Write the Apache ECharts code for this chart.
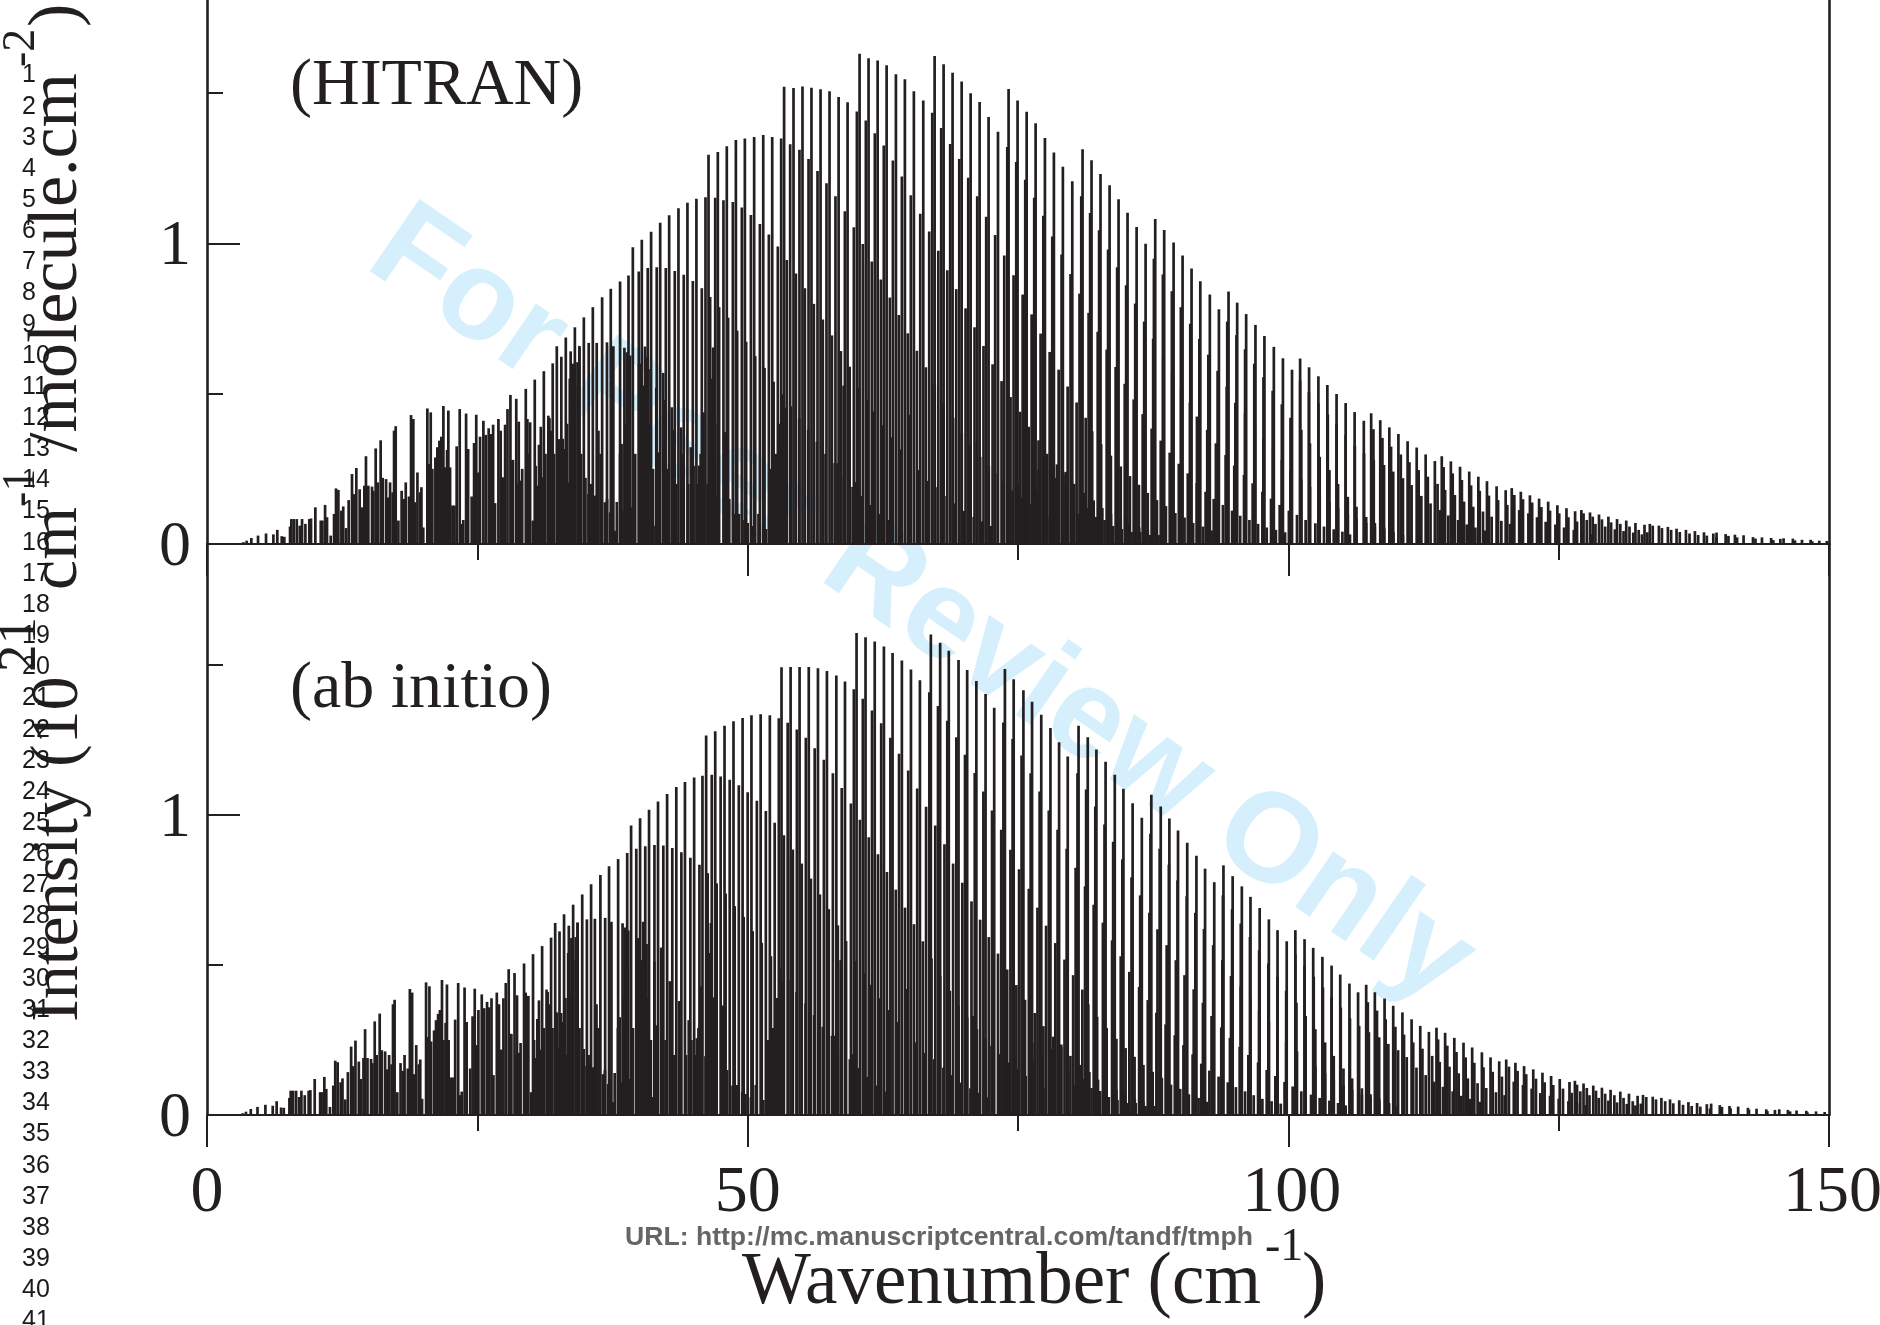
<!DOCTYPE html>
<html><head><meta charset="utf-8">
<style>html,body{margin:0;padding:0;background:#fff}#c{width:1880px;height:1325px}</style>
<script src="https://cdn.jsdelivr.net/npm/echarts@6/dist/echarts.min.js"></script>
</head><body><div id="c"></div>
<script>
const hitranLeft=[3.36,.006,3.67,.011,4.1,.02,4.72,.028,5.46,.035,6.14,.032,6.5,.047,6.91,.026,7.15,.024,7.68,.058,7.8,.083,8.02,.083,8.3,.083,8.58,.061,8.79,.083,9.1,.067,9.46,.083,9.62,.085,10.02,.122,10.52,.078,10.67,.078,10.92,.13,11.1,.089,11.44,.028,11.75,.1,11.93,.185,12.15,.18,12.43,.111,12.6,.125,12.86,.053,13.1,.146,13.41,.233,13.6,.166,13.81,.253,14.12,.182,14.3,.122,14.55,.194,14.7,.292,14.92,.194,15.26,.191,15.38,.177,15.6,.318,15.78,.205,16.06,.345,16.25,.22,16.56,.216,16.74,.155,16.93,.205,17.17,.172,17.3,.377,17.45,.392,17.7,.078,18,.177,18.22,.15,18.38,.205,18.68,.158,18.87,.429,19.08,.416,19.24,.139,19.46,.238,19.7,.172,19.83,.189,20,.055,20.38,.451,20.5,.266,20.69,.438,20.84,.25,21.12,.288,21.3,.322,21.49,.344,21.67,.357,21.86,.459,22,.255,22.2,.313,22.32,.444,22.48,.255,22.7,.128,22.88,.128,23.09,.325,23.37,.449,23.56,.067,23.7,.08,23.96,.434,24.15,.316,24.48,.158,24.7,.336,24.9,.43,25.1,.238,25.25,.357,25.56,.41,25.78,.363,26.05,.385,26.24,.366,26.46,.397,26.64,.136,26.95,.416,27.16,.377,27.35,.222,27.57,.397,27.79,.449,28.06,.496,28.2,.277,28.6,.483,28.83,.407,29,.211,29.63,.416,29.88,.405,30.13,.078,30.55,.194,30.87,.39,30.96,.222,31.05,.122,31.57,.427,31.67,.419,31.79,.377,32.53,.349,32.65,.227,33.03,.316,33.4,.205];
const hitran25=[29.48,.516,30.31,.547,31.15,.575,31.97,.601,32.77,.623,33.63,.641,34.44,.659,35.3,.669,36.04,.669,36.99,.671,37.58,.658,38.6,.653,39.13,.627,39.95,.6,40.75,.56,41.55,.52,42.3,.48,42.98,.455,43.85,.388,44.74,.322,45.51,.261,46.3,.2,47.2,.16,48,.13,48.8,.1,49.7,.08,50.5,.06];
const hitran32=[32.35,.658,33.18,.687,34.02,.721,34.85,.754,35.68,.788,36.54,.821,37.34,.849,38.2,.873,38.98,.893,39.93,.907,40.76,.918,41.59,.921,42.43,.918,43.26,.908,44.09,.896,44.93,.875,45.76,.851,46.53,.822,47.36,.788,48.19,.753,49.03,.71,49.86,.673,50.7,.625,51.56,.586,52.4,.54,53.19,.498,54,.458,54.77,.418,55.6,.38,56.4,.34,57.2,.3,58.05,.269,58.9,.22,59.7,.19,60.5,.16,61.3,.13,62.2,.1,63,.08];
const hitran39=[39.38,.987,40.21,1.012,41.07,1.039,41.91,1.069,42.74,1.094,43.6,1.117,44.43,1.135,45.26,1.149,46.1,1.154,47,1.152,47.76,1.144,48.63,1.138,49.46,1.12,50.3,1.095,51.13,1.065,51.96,1.03,52.79,.99,53.62,.945,54.46,.9,55.29,.851,56.12,.799,56.95,.747,57.79,.694,58.62,.642,59.43,.59,60.3,.52,61.1,.48,61.64,.441,62.5,.395,63.33,.355,64.16,.315,64.97,.28,65.8,.246,66.6,.21,67.56,.189,68.4,.16,69.2,.135,70,.11,70.9,.09,71.7,.075,72.5,.06];
const hitran46=[46.38,1.295,47.24,1.304,48.07,1.323,48.91,1.344,49.74,1.349,50.6,1.354,51.44,1.361,52.27,1.354,53.1,1.349,53.93,1.33,54.79,1.312,55.63,1.281,56.46,1.241,57.29,1.2,58.12,1.157,58.99,1.107,59.82,1.054,60.65,.998,61.48,.94,62.32,.88,63.15,.82,63.98,.762,64.81,.701,65.65,.643,66.48,.588,67.3,.53,68.1,.47,69,.42,69.8,.37,70.6,.33,71.5,.29,72.3,.26,72.89,.235,73.66,.206,74.5,.178,75.27,.155,76.07,.132,76.9,.11,77.7,.09,78.6,.075];
const hitran53=[53.37,1.521,54.24,1.517,55.07,1.522,55.9,1.518,56.74,1.513,57.57,1.506,58.41,1.487,59.24,1.47,60.1,1.439,60.93,1.409,61.76,1.367,62.59,1.326,63.43,1.276,64.26,1.223,65.09,1.16,65.96,1.099,66.79,1.04,67.63,.976,68.46,.911,69.29,.848,70.15,.784,70.98,.721,71.81,.659,72.65,.598,73.48,.542,74.31,.489,75.2,.44,76,.39,76.9,.345,77.7,.3,78.6,.265,79.4,.23,80.2,.2,81.1,.17,82,.145,82.8,.12,83.6,.1,84.5,.085,85.3,.07,86.2,.055,87,.045];
const hitran60=[60.35,1.631,61.18,1.616,62.02,1.609,62.85,1.593,63.71,1.563,64.54,1.546,65.37,1.506,66.24,1.476,67.07,1.435,67.9,1.384,68.73,1.331,69.57,1.281,70.4,1.219,71.23,1.157,72.06,1.089,72.89,1.028,73.73,.96,74.59,.894,75.43,.83,76.26,.764,77.09,.7,77.93,.639,78.76,.58,79.59,.524,80.42,.471,81.26,.42,81.86,.375,82.69,.332,83.59,.294,84.5,.258,85.35,.226,86.18,.197,87,.17,87.85,.146,88.68,.126,89.55,.103,90.4,.088,91.2,.07,92.1,.058,92.9,.045];
const hitran67=[67.29,1.624,68.12,1.596,68.95,1.568,69.79,1.539,70.62,1.5,71.45,1.471,72.28,1.421,73.15,1.372,74.01,1.321,74.84,1.271,75.67,1.212,76.5,1.152,77.34,1.092,78.17,1.023,79.03,.963,79.86,.898,80.69,.833,81.53,.769,82.37,.706,83.2,.647,84.03,.589,84.87,.533,85.7,.481,86.53,.432,87.36,.384,88.2,.344,89.03,.304,89.87,.267,90.7,.235,91.53,.203,92.35,.174,93.1,.15,93.95,.13,94.8,.111,95.55,.094,96.4,.08,97.2,.067,98,.055,98.85,.047,99.7,.039];
const hitran74=[74.13,1.514,74.96,1.476,75.8,1.438,76.63,1.4,77.49,1.351,78.32,1.303,79.15,1.255,80.02,1.207,80.85,1.157,81.67,1.101,82.5,1.044,83.33,.98,84.17,.921,85,.861,85.84,.8,86.67,.74,87.5,.683,88.43,.624,89.26,.57,90.09,.518,90.9,.47,91.55,.424,92.5,.38,93.3,.335,94.2,.296,95,.261,95.9,.23,96.7,.202,97.6,.174,98.4,.151,99.2,.13,100.05,.111,100.8,.097,101.6,.08,102.5,.069,103.3,.058,104.2,.049,105,.041,105.7,.032];
const hitran81=[80.97,1.313,81.8,1.277,82.63,1.231,83.47,1.194,84.3,1.147,85.13,1.102,85.97,1.055,86.8,.999,87.57,.949,88.4,.897,89.23,.841,90.06,.788,90.93,.733,91.77,.682,92.6,.63,93.46,.576,94.3,.524,95.1,.47,96,.435,96.9,.393,97.7,.353,98.6,.315,99.4,.28,100.2,.246,101.2,.215,102,.19,102.9,.165,103.8,.14,104.6,.12,105.5,.1,106.3,.085,107.2,.07,108,.058,108.85,.048,109.7,.04,110.6,.03];
const hitran88=[87.69,1.081,88.52,1.045,89.39,1.003,90.22,.96,91.05,.917,91.86,.874,92.74,.83,93.58,.781,94.35,.74,95.2,.695,96,.648,96.85,.6,97.7,.555,98.55,.51,99.4,.465,100.2,.42,101.2,.38,102,.335,102.9,.29,103.8,.246,104.6,.2,105.5,.157,106.3,.124,107.2,.09,108,.07,108.85,.055,109.7,.04];
const hitran94=[94.47,.84,95.27,.803,96.1,.765,96.96,.729,97.79,.692,98.66,.656,99.5,.618,100.34,.58,101.09,.544,101.9,.505,102.78,.468,103.65,.431,104.46,.399,105.3,.363,106.15,.327,107,.302,107.9,.28,108.85,.263,109.7,.241,110.6,.219,111.4,.196,112.3,.16,113.15,.135,114,.113,114.8,.095,115.7,.08,116.5,.065,117.3,.055,118.2,.045];
const hitran101=[101.09,.617,101.92,.588,102.78,.558,103.61,.529,104.46,.499,105.3,.469,106.13,.439,106.98,.41,107.87,.382,108.7,.353,109.5,.324,110.4,.298,111.2,.272,112.05,.246,112.9,.224,113.8,.2,114.5,.18,115.4,.163,116.25,.141,117.1,.124,118,.108,118.8,.091,119.7,.077,120.5,.067,121.4,.055,122.3,.045,123.1,.035];
const hitran108=[107.66,.435,108.5,.412,109.34,.388,110.18,.366,111.03,.342,111.87,.321,112.7,.298,113.55,.276,114.36,.256,115.2,.235,116.05,.213,116.9,.195,117.7,.177,118.55,.161,119.4,.146,120.25,.13,121.35,.113,122.2,.102,123,.089,123.8,.074,124.7,.065,125.5,.055,126.4,.047,127.2,.04,128,.033];
const hitran114=[114.19,.292,115.03,.275,115.88,.257,116.73,.241,117.57,.224,118.37,.209,119.26,.192,120.1,.179,120.9,.163,121.7,.149,122.55,.138,123.4,.123,124.2,.111,125.05,.102,125.9,.089,126.7,.075,127.6,.08,128.4,.067,129.3,.058,130.2,.049,131,.043,131.9,.038,132.7,.032];
const hitran121=[120.66,.186,121.5,.174,122.34,.162,123.19,.151,124.03,.141,124.88,.129,125.72,.119,126.52,.109,127.3,.102,128.15,.091,129,.082,129.85,.072,130.7,.067,131.55,.058,132.4,.047,133.2,.039];
const hitran127=[127.1,.113,127.9,.105,128.73,.098,129.6,.091,130.4,.083,131.25,.078,132.1,.07,132.94,.064,133.7,.061,134.55,.053,135.4,.047,136.2,.04,137.1,.035,137.9,.03,138.7,.028,139.6,.022];
const hitran133=[133.43,.067,134.27,.061,135.1,.057,135.9,.051,136.77,.047,137.6,.043,138.44,.039,139.3,.035,140.7,.027,141.5,.022,143.2,.018,144.85,.013];
const hitran140=[139.6,.038,140.44,.033,141.3,.031,142.1,.029,142.97,.023,143.8,.022,144.65,.02,145.5,.017,146.85,.012,148.45,.009];
const hitran146=[145.8,.019,146.66,.018,147.5,.014,148.3,.014,149.1,.011,149.8,.01];
const hitranBlobs=[33.73,.41,34.04,.527,34.26,.605,34.44,.653,35.28,.166,35.89,.161,36.2,.377,36.8,.139,37.28,.105,37.7,.044,38.34,.333,38.5,.111,38.82,.638,39.28,.122,40,.25,40.36,.527,40.51,.657,40.83,.582,41.3,.061,41.72,.305,42.18,.569,45.92,.438,46.8,.654,47,.4,47.91,.372,53.47,.453,58.31,.269,58.87,.527,59.98,.206,64.97,.43,71.2,.338,76.9,.246,79.4,.24];
const hitranLow=[28.3,.28,28.75,.2,29.15,.25,29.7,.3,30.4,.26,30.7,.33,31.3,.3,31.9,.25,32.1,.3,32.9,.35,33.3,.4,33.55,.55,33.85,.6,34.6,.3,35,.22,35.5,.2,36,.16,36.4,.3,37,.15,37.5,.12,37.9,.14,38.2,.3,38.75,.4,39.05,.5,39.6,.3,40.15,.6,40.6,.62,41,.4,41.25,.25,41.8,.3,42.6,.25,43.1,.38,43.4,.2,44,.3,44.5,.2,45,.26,45.35,.2,45.65,.3,46.65,.55,48.3,.15,49.2,.1,50,.07,51,.1,51.7,.05,52.1,.25,52.6,.3,52.95,.4,75,.2,75.9,.16,76.7,.18,77.5,.2,78.4,.22,79.2,.2,80,.15,80.6,.1,81.4,.12,82.2,.09,83,.08,83.8,.06,84.6,.05,85.5,.04,86.3,.04,87.2,.03,88,.03];

const abInitioLeft=[3.3,.006,3.6,.011,4.05,.02,4.67,.027,5.4,.034,6.08,.031,6.44,.046,6.85,.025,7.1,.024,7.62,.057,7.74,.081,7.96,.081,8.24,.081,8.52,.06,8.73,.081,9.04,.066,9.4,.081,9.56,.083,9.96,.12,10.46,.076,10.6,.076,10.85,.127,11.03,.087,11.37,.027,11.68,.098,11.86,.181,12.08,.176,12.36,.109,12.53,.122,12.79,.052,13.03,.143,13.33,.228,13.52,.163,13.73,.248,14.04,.178,14.22,.12,14.47,.19,14.62,.286,14.84,.19,15.17,.187,15.3,.173,15.51,.312,15.69,.2,15.97,.338,16.16,.216,16.47,.212,16.65,.152,16.84,.2,17.07,.169,17.2,.369,17.35,.384,17.6,.076,17.9,.173,18.12,.147,18.27,.2,18.57,.155,18.76,.42,18.97,.408,19.13,.136,19.35,.233,19.59,.169,19.72,.185,19.89,.054,20.26,.442,20.38,.26,20.57,.429,20.72,.245,21,.282,21.18,.316,21.37,.337,21.54,.35,21.73,.45,21.87,.25,22.07,.307,22.19,.435,22.35,.25,22.57,.125,22.75,.125,22.95,.318,23.23,.44,23.42,.066,23.56,.078,23.82,.425,24.01,.31,24.34,.155,24.56,.329,24.76,.421,24.96,.233,25.1,.35,25.41,.402,25.63,.356,25.9,.377,26.09,.359,26.31,.389,26.49,.133,26.8,.408,27,.369,27.2,.218,27.41,.389,27.63,.44,27.9,.486,28.04,.271,28.44,.473,28.67,.399,28.84,.207,29.47,.408,29.72,.397,29.97,.076,30.39,.19,30.7,.382,30.8,.218,30.89,.12,31.4,.418,31.5,.41,31.62,.369,32.36,.342,32.48,.222,32.86,.31,33.23,.2];
const abInitio25=[29.32,.505,30.15,.536,30.99,.563,31.82,.591,32.6,.612,33.46,.631,34.27,.642,35.13,.652,35.87,.654,36.82,.657,37.4,.644,38.43,.639,38.96,.615,39.78,.588,40.57,.549,41.37,.51,42.12,.47,42.8,.446,43.66,.38,44.55,.316,45.3,.256,46.1,.196,47,.157,47.8,.127,48.6,.098,49.5,.078,50.3,.059];
const abInitio32=[32.2,.64,33.02,.669,33.86,.701,34.7,.735,35.52,.769,36.38,.8,37.18,.829,38.02,.853,38.86,.873,39.7,.887,40.53,.896,41.38,.9,42.2,.898,43.03,.89,43.87,.876,44.7,.857,45.54,.834,46.3,.806,47.13,.772,47.96,.738,48.8,.696,49.63,.66,50.46,.613,51.3,.574,52.15,.529,52.95,.488,53.75,.449,54.52,.41,55.35,.372,56.15,.333,56.95,.294,57.8,.264,58.65,.216,59.45,.186,60.25,.157,61.05,.127,61.95,.098,62.75,.078];
const abInitio39=[39.22,.965,40.05,.989,40.88,1.017,41.71,1.045,42.55,1.07,43.4,1.093,44.2,1.11,45.05,1.125,45.82,1.131,46.68,1.134,47.5,1.128,48.34,1.117,49.18,1.099,50,1.076,50.85,1.047,51.68,1.013,52.5,.974,53.35,.932,54.18,.885,55,.838,55.85,.788,56.68,.735,57.5,.686,58.34,.632,59.1,.58,60,.512,60.8,.472,61.35,.434,62.2,.389,63.03,.35,63.86,.31,64.67,.276,65.5,.242,66.3,.207,67.25,.186,68.1,.158,68.9,.133,69.7,.108,70.6,.089,71.4,.074,72.2,.059];
const abInitio46=[46.16,1.265,47,1.279,47.86,1.297,48.69,1.312,49.53,1.323,50.35,1.332,51.2,1.336,52.05,1.332,52.88,1.322,53.7,1.307,54.55,1.285,55.38,1.257,56.2,1.222,57.05,1.184,57.88,1.139,58.7,1.09,59.55,1.038,60.38,.984,61.2,.926,62.05,.869,62.88,.81,63.7,.751,64.55,.691,65.38,.636,66.2,.579,67,.522,67.8,.463,68.7,.414,69.5,.364,70.3,.325,71.2,.286,72,.256,72.55,.231,73.33,.203,74.15,.175,74.92,.153,75.72,.13,76.55,.108,77.35,.089,78.25,.074];
const abInitio53=[53.13,1.492,53.97,1.493,54.8,1.493,55.65,1.493,56.5,1.489,57.33,1.48,58.2,1.465,59,1.445,59.82,1.419,60.65,1.387,61.5,1.348,62.35,1.306,63.2,1.257,64,1.204,64.85,1.148,65.68,1.088,66.5,1.027,67.35,.965,68.2,.902,69,.838,69.85,.774,70.7,.712,71.5,.651,72.3,.593,73.15,.538,74,.485,74.85,.433,75.65,.384,76.55,.34,77.35,.296,78.25,.261,79,.227,79.85,.197,80.7,.167,81.6,.143,82.4,.118,83.2,.098,84.1,.084,84.9,.069,85.8,.054,86.6,.044];
const abInitio60=[60.07,1.606,60.9,1.592,61.75,1.578,62.6,1.561,63.4,1.54,64.26,1.515,65.1,1.485,65.93,1.449,66.8,1.409,67.6,1.363,68.46,1.314,69.3,1.259,70.1,1.201,71,1.14,71.8,1.078,72.6,1.015,73.45,.951,74.3,.884,75.1,.819,76,.754,76.8,.691,77.6,.631,78.45,.573,79.3,.518,80.1,.466,80.95,.418,81.5,.369,82.32,.327,83.2,.29,84.1,.254,84.95,.223,85.78,.194,86.6,.167,87.45,.144,88.3,.124,89.15,.101,90,.087,90.8,.069,91.7,.057,92.5,.044];
const abInitio67=[66.94,1.601,67.8,1.574,68.6,1.547,69.5,1.516,70.3,1.483,71.15,1.446,72,1.403,72.8,1.357,73.65,1.308,74.5,1.253,75.33,1.198,76.17,1.139,77,1.078,77.85,1.015,78.66,.951,79.5,.887,80.33,.824,81.2,.762,82,.701,82.85,.641,83.7,.582,84.5,.529,85.3,.477,86.2,.427,87,.383,87.8,.341,88.65,.302,89.5,.266,90.3,.233,91.15,.202,91.95,.171,92.7,.148,93.55,.128,94.4,.109,95.15,.093,96,.079,96.8,.066,97.6,.054,98.45,.046,99.3,.038];
const abInitio74=[73.79,1.486,74.6,1.452,75.5,1.416,76.3,1.377,77.15,1.334,78,1.29,78.8,1.242,79.6,1.195,80.5,1.139,81.3,1.085,82.15,1.028,83,.968,83.8,.911,84.65,.852,85.5,.792,86.3,.732,87.15,.674,87.9,.619,88.75,.566,89.6,.516,90.4,.466,91.25,.419,92.1,.374,92.9,.33,93.8,.292,94.6,.257,95.5,.227,96.3,.2,97.2,.175,98,.15,98.8,.13,99.65,.11,100.4,.095,101.2,.079,102.1,.068,102.9,.057,103.8,.048,104.6,.04,105.3,.032];
const abInitio81=[80.6,1.297,81.45,1.259,82.25,1.218,83.1,1.177,83.95,1.134,84.75,1.087,85.6,1.039,86.45,.991,87.25,.937,88.1,.887,88.95,.834,89.75,.782,90.6,.729,91.4,.674,92.2,.62,93.05,.566,93.9,.516,94.7,.463,95.6,.428,96.5,.387,97.3,.348,98.2,.31,99,.276,99.8,.242,100.8,.212,101.6,.187,102.5,.163,103.4,.138,104.2,.118,105.1,.099,105.9,.084,106.8,.069,107.6,.057,108.4,.047,109.3,.039,110.1,.03];
const abInitio88=[87.33,1.067,88.2,1.028,89,.988,89.8,.948,90.65,.907,91.5,.864,92.3,.821,93.15,.776,93.95,.732,94.8,.686,95.6,.638,96.45,.593,97.3,.549,98.15,.505,99,.46,99.8,.414,100.75,.374,101.6,.33,102.5,.286,103.4,.242,104.2,.197,105.1,.155,105.9,.122,106.8,.089,107.6,.069,108.4,.054,109.3,.04];
const abInitio94=[94,.832,94.85,.796,95.7,.762,96.5,.727,97.35,.69,98.2,.652,99,.616,99.85,.579,100.65,.536,101.5,.497,102.35,.461,103.2,.425,104,.393,104.85,.358,105.7,.322,106.55,.297,107.45,.276,108.4,.259,109.25,.237,110.15,.216,110.95,.193,111.85,.158,112.7,.133,113.5,.111,114.3,.094,115.2,.079,116,.064,116.8,.054,117.7,.044];
const abInitio101=[100.65,.616,101.5,.586,102.3,.557,103.15,.527,104,.498,104.8,.468,105.65,.438,106.45,.409,107.35,.376,108.2,.348,109,.319,109.9,.294,110.7,.268,111.55,.242,112.4,.221,113.3,.197,114,.177,114.9,.161,115.75,.139,116.6,.122,117.5,.106,118.3,.09,119.2,.076,120,.066,120.9,.054,121.8,.044,122.6,.034];
const abInitio108=[107.2,.434,108,.409,108.9,.388,109.7,.364,110.55,.342,111.4,.319,112.2,.297,113,.277,113.85,.252,114.7,.231,115.55,.21,116.4,.192,117.2,.174,118.05,.159,118.9,.144,119.75,.128,120.85,.111,121.7,.1,122.5,.088,123.3,.073,124.2,.064,125,.054,125.9,.046,126.7,.039,127.5,.033];
const abInitio114=[113.7,.291,114.5,.274,115.35,.257,116.2,.241,117,.225,117.9,.209,118.7,.192,119.5,.179,120.4,.161,121.2,.147,122,.136,122.9,.121,123.7,.109,124.5,.1,125.4,.088,126.2,.074,127,.079,127.85,.066,128.7,.057,129.6,.048,130.4,.042,131.3,.037,132.1,.032];
const abInitio121=[120.15,.185,121,.174,121.8,.163,122.65,.152,123.5,.141,124.3,.13,125.1,.12,126,.11,126.7,.101,127.6,.09,128.45,.081,129.3,.071,130.15,.066,131,.057,131.85,.046,132.6,.038];
const abInitio127=[126.5,.114,127.3,.105,128.2,.098,129,.091,129.8,.084,130.7,.078,131.5,.071,132.3,.064,133.1,.06,134,.052,134.85,.046,135.6,.039,136.5,.034,137.3,.03,138.1,.028,139,.022];
const abInitio133=[132.8,.067,133.7,.061,134.5,.057,135.3,.052,136.15,.049,137,.043,137.8,.04,138.7,.036,140.1,.027,140.9,.022,142.6,.018,144.3,.013];
const abInitio140=[139.1,.038,139.9,.033,140.8,.03,141.6,.028,142.5,.024,143.3,.021,144.2,.019,145,.017,146.4,.012,148,.009];
const abInitio146=[145.4,.019,146.2,.017,147,.015,147.9,.014,148.8,.012,149.6,.01];
const abInitioBlobs=[33.57,.402,33.88,.516,34.1,.593,34.27,.64,35.1,.163,35.72,.158,36.02,.369,36.62,.136,37.1,.103,37.52,.043,38.16,.326,38.32,.109,38.64,.625,39.1,.12,39.82,.245,40.18,.516,40.33,.644,40.65,.57,41.12,.06,41.54,.299,42,.558,45.72,.429,46.6,.64,46.8,.392,47.7,.365,53.23,.444,58.05,.264,58.6,.516,59.7,.202,64.67,.42,70.85,.33,76.55,.24,79,.235];
const abInitioLow=[28.15,.27,28.6,.2,29,.24,29.55,.29,30.25,.25,30.55,.32,31.15,.29,31.75,.25,31.95,.29,32.75,.34,33.15,.39,33.4,.54,33.7,.59,34.45,.29,34.85,.22,35.3,.2,35.8,.16,36.2,.29,36.8,.15,37.3,.12,37.7,.14,38,.29,38.55,.39,38.85,.49,39.4,.29,39.95,.59,40.4,.61,40.8,.39,41.05,.25,41.6,.29,42.4,.25,42.9,.37,43.2,.2,43.8,.29,44.3,.2,44.8,.25,45.15,.2,45.45,.29,46.45,.54,48.1,.15,49,.1,49.8,.07,50.75,.1,51.45,.05,51.85,.25,52.35,.29,52.7,.39,74.65,.2,75.55,.16,76.35,.18,77.15,.2,78.05,.22,78.85,.2,79.65,.15,80.25,.1,81,.12,81.8,.09,82.6,.08,83.4,.06,84.2,.05,85.1,.04,85.9,.04,86.8,.03,87.6,.03];

const yTickValues=[0,1];
const yMinorValues=[0.5,1.5];
const lineNumbers=['1','2','3','4','5','6','7','8','9','10','11','12','13','14','15','16','17','18','19','20','21','22','23','24','25','26','27','28','29','30','31','32','33','34','35','36','37','38','39','40','41'];
const hitranLists=[hitranLeft,hitran25,hitran32,hitran39,hitran46,hitran53,hitran60,hitran67,hitran74,hitran81,hitran88,hitran94,hitran101,hitran108,hitran114,hitran121,hitran127,hitran133,hitran140,hitran146,hitranBlobs,hitranLow];
const abInitioLists=[abInitioLeft,abInitio25,abInitio32,abInitio39,abInitio46,abInitio53,abInitio60,abInitio67,abInitio74,abInitio81,abInitio88,abInitio94,abInitio101,abInitio108,abInitio114,abInitio121,abInitio127,abInitio133,abInitio140,abInitio146,abInitioBlobs,abInitioLow];

function pairs(lists){const out=[];lists.forEach(l=>{for(let i=0;i<l.length;i+=2)out.push([l[i],l[i+1]]);});return out;}
const INK='#231f20',SERIF='"Liberation Serif"',SANS='"Liberation Sans"';
function xAxis(gridIndex,labels){return{type:'value',gridIndex,min:0,max:150,interval:50,
 axisLine:{show:true,onZero:false,lineStyle:{color:INK,width:2}},
 axisTick:{show:true,length:32,inside:false,lineStyle:{color:INK,width:2}},
 minorTick:{show:true,splitNumber:2,length:16,lineStyle:{color:INK,width:2}},
 splitLine:{show:false},minorSplitLine:{show:false},
 axisLabel:{show:labels,color:INK,margin:46,hideOverlap:false,showMinLabel:true,showMaxLabel:true,
  formatter:v=>v>=100?'{w|'+v+'}':'{n|'+v+'}',
  rich:{n:{fontFamily:SERIF,fontSize:66,color:INK},w:{fontFamily:SERIF,fontSize:66,color:INK,padding:[0,0,0,7]}}}};}
function yMajor(gridIndex,max){return{type:'value',gridIndex,min:0,max,position:'left',
 axisLine:{show:true,onZero:false,lineStyle:{color:INK,width:2.6}},
 axisTick:{show:true,inside:true,length:33,customValues:yTickValues,lineStyle:{color:INK,width:2}},
 axisLabel:{show:true,customValues:yTickValues,color:INK,margin:16,formatter:'{a|{value}}',
  rich:{a:{fontFamily:SERIF,fontSize:64,color:INK,padding:[8,0,0,0]}}},
 splitLine:{show:false}};}
function yMinor(gridIndex,max){return{type:'value',gridIndex,min:0,max,position:'left',
 axisLine:{show:false},
 axisTick:{show:true,inside:true,length:16,customValues:yMinorValues,lineStyle:{color:INK,width:2}},
 axisLabel:{show:false},splitLine:{show:false}};}
function yRight(gridIndex,max){return{type:'value',gridIndex,min:0,max,position:'right',
 axisLine:{show:true,onZero:false,lineStyle:{color:INK,width:2.6}},
 axisTick:{show:false},axisLabel:{show:false},splitLine:{show:false}};}
function label(text,x,y,size,extra){return Object.assign({type:'text',x,y,z:100,silent:true,
 style:{text,font:size+'px '+SERIF,fill:INK,align:'left',verticalAlign:'middle'}},extra||{});}
const UP=Math.PI/2;
const graphic=[
 {type:'text',x:921,y:607,rotation:-0.602,z:0,silent:true,style:{text:'For Peer Review Only',font:'bold 127px '+SANS,fill:'#d5effc',align:'center',verticalAlign:'middle'}},
 label('(HITRAN)',290,87,66),
 label('(ab initio)',290,690,66),
 label('Wavenumber (cm',742,1284,73),
 label('-1',1265,1248,46),
 label(')',1302,1284,73),
 label('Intensity (10',59,1022,68,{rotation:UP}),
 label('21',21,672,55,{rotation:UP}),
 label('cm',58,590,68,{rotation:UP}),
 label('-1',22,507,46,{rotation:UP}),
 label('/molecule.cm',58,452,70,{rotation:UP}),
 label('-2',22,67,46,{rotation:UP}),
 label(')',58,27,70,{rotation:UP}),
 {type:'text',x:625,y:1238,z:100,silent:true,style:{text:'URL: http://mc.manuscriptcentral.com/tandf/tmph',font:'bold 26.6px '+SANS,fill:'#666666',align:'left',verticalAlign:'middle'}}
].concat(lineNumbers.map((t,i)=>({type:'text',x:22,y:75.5+31.15*i,z:100,silent:true,style:{text:t,font:'25px '+SANS,fill:'#1a1a1a',align:'left',verticalAlign:'middle'}})));
function sticks(name,xi,yi,list){return{name,type:'bar',xAxisIndex:xi,yAxisIndex:yi,data:pairs(list),barWidth:2.7,silent:true,animation:false,z:2,itemStyle:{color:INK}};}
const chart=echarts.init(document.getElementById('c'),null,{renderer:'canvas'});
chart.setOption({
 animation:false,backgroundColor:'#fff',tooltip:{show:false},legend:{show:false},
 grid:[{left:207,right:51,top:0,height:544,outerBoundsMode:'none'},{left:207,right:51,top:544,height:571,outerBoundsMode:'none'}],
 xAxis:[xAxis(0,false),xAxis(1,true)],
 yAxis:[yMajor(0,1.81),yMinor(0,1.81),yRight(0,1.81),yMajor(1,1.903),yMinor(1,1.903),yRight(1,1.903)],
 series:[sticks('HITRAN',0,0,hitranLists),sticks('ab initio',1,3,abInitioLists)],
 graphic
});
</script></body></html>
